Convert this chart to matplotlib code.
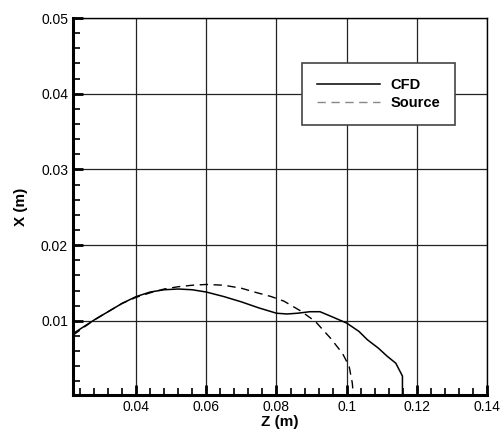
import matplotlib
matplotlib.use("Agg")
import matplotlib.pyplot as plt
from matplotlib.ticker import MultipleLocator

plt.rcParams['font.family'] = ['Liberation Sans', 'DejaVu Sans']

# CFD profile
z_cfd = [0.022, 0.025, 0.028, 0.032, 0.036, 0.040, 0.044, 0.048, 0.052, 0.056,
         0.060, 0.065, 0.070, 0.075, 0.080, 0.083, 0.086, 0.0895, 0.0924, 0.096,
         0.100, 0.1035, 0.1059, 0.109, 0.1116, 0.114, 0.1159, 0.1159]
x_cfd = [0.0083, 0.0092, 0.0101, 0.0112, 0.0123, 0.0132, 0.0138, 0.0141, 0.0142, 0.0141,
         0.0138, 0.0132, 0.0125, 0.0117, 0.0110, 0.0109, 0.0110, 0.0112, 0.0112, 0.0105,
         0.0097, 0.0086, 0.0075, 0.0064, 0.0053, 0.0044, 0.0027, 0.0002]

# Source model profile
z_src = [0.022, 0.025, 0.028, 0.032, 0.036, 0.040, 0.044, 0.048, 0.052, 0.056,
         0.060, 0.065, 0.070, 0.0745, 0.0785, 0.0821, 0.0869, 0.0911, 0.0954, 0.0988,
         0.1007, 0.1016, 0.1019]
x_src = [0.0081, 0.0091, 0.0101, 0.0112, 0.0123, 0.0131, 0.0137, 0.0142, 0.0145, 0.0147,
         0.0148, 0.0147, 0.0143, 0.0137, 0.0132, 0.0126, 0.0113, 0.0099, 0.0077, 0.0057,
         0.0040, 0.0018, 0.0002]

fig = plt.figure(figsize=(5.03, 4.33), dpi=100)
ax = fig.add_axes([0.1451, 0.0878, 0.8231, 0.8706])

ax.plot(z_cfd, x_cfd, color='black', lw=1.1, label='CFD')
ax.plot(z_src, x_src, color='black', lw=1.0, ls=(0, (6, 4)), label='Source')

ax.set_xlim(0.022, 0.14)
ax.set_ylim(0.0002, 0.05)
ax.xaxis.set_minor_locator(MultipleLocator(0.004))
ax.yaxis.set_minor_locator(MultipleLocator(0.002))
ax.set_xticks([0.04, 0.06, 0.08, 0.10, 0.12, 0.14])
ax.set_xticklabels(['0.04', '0.06', '0.08', '0.1', '0.12', '0.14'])
ax.set_yticks([0.01, 0.02, 0.03, 0.04, 0.05])
ax.set_yticklabels(['0.01', '0.02', '0.03', '0.04', '0.05'])

ax.grid(True, which='major', color='#222222', lw=0.9)
ax.set_axisbelow(True)
ax.tick_params(which='both', direction='in', top=False, right=False, labelsize=10, width=1.2)
ax.tick_params(which='major', length=7, width=2)
ax.tick_params(which='minor', length=5)

for side in ['left', 'bottom']:
    ax.spines[side].set_linewidth(2.2)
for side in ['top', 'right']:
    ax.spines[side].set_linewidth(1.0)

ax.set_xlabel('Z (m)', fontsize=11, fontweight='bold', labelpad=1)
ax.set_ylabel('X (m)', fontsize=11, fontweight='bold', labelpad=9)

leg = ax.legend(loc='upper left', bbox_to_anchor=(0.553, 0.881), borderaxespad=0,
                frameon=True, fancybox=False, edgecolor='#444444', framealpha=1,
                handlelength=4.3, borderpad=1.05, labelspacing=0.25, handletextpad=0.7,
                prop={'weight': 'bold', 'size': 10.5})
leg.get_frame().set_linewidth(1.2)
leg.get_lines()[1].set_color('#888888')

fig.savefig('out.png', dpi=100)
